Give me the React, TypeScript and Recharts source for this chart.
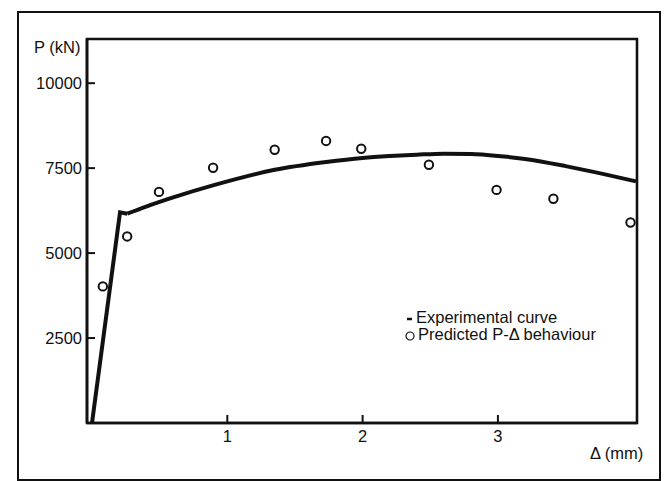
import React from 'react';
import {
  ComposedChart,
  Line,
  Scatter,
  XAxis,
  YAxis,
  Legend,
  ReferenceArea,
} from 'recharts';

// experimental curve: straight elastic branch, then the smooth part
const elasticDelta = [0, 0.207, 0.26];
const elasticLoad = [0, 6200, 6160];

const curveDelta = [0.26, 0.4, 0.6, 0.9, 1.35, 1.73, 2.0, 2.2, 2.4, 2.6, 2.8, 3.0, 3.2, 3.5, 3.8, 4.02];
const curveLoad = [6160, 6370, 6640, 7000, 7450, 7680, 7800, 7855, 7895, 7925, 7915, 7860, 7770, 7560, 7310, 7110];

// predicted P-Δ points
const predDelta = [0.08, 0.26, 0.495, 0.895, 1.35, 1.73, 1.99, 2.49, 2.99, 3.41, 3.98];
const predLoad = [4020, 5490, 6800, 7510, 8040, 8300, 8070, 7600, 6860, 6600, 5900];

const xTicks = [1, 2, 3];
const yTicks = [2500, 5000, 7500, 10000];
const xDomain: [number, number] = [-0.037, 4.028];
const yDomain: [number, number] = [0, 11300];

const INK = '#111';
const FONT = '"Liberation Sans", Arial, Helvetica, sans-serif';

const elasticData = elasticDelta.map((x, i) => ({ x, p: elasticLoad[i] }));
const curveData = curveDelta.map((x, i) => ({ x, p: curveLoad[i] }));
const predData = predDelta.map((x, i) => ({ x, p: predLoad[i] }));

const HollowDot = (props: any) => {
  const { cx, cy } = props;
  if (cx == null || cy == null) return null;
  return <circle cx={cx} cy={cy} r={4.2} fill="#fff" stroke={INK} strokeWidth={2} />;
};

const LegendBox = () => (
  <div style={{ fontFamily: FONT, fontSize: 16.5, lineHeight: '17px', color: INK, whiteSpace: 'nowrap' }}>
    <div style={{ display: 'flex', alignItems: 'center', height: 17 }}>
      <svg width={12} height={17}>
        <line x1={3} y1={10} x2={8} y2={10} stroke={INK} strokeWidth={2.5} />
      </svg>
      <span>Experimental curve</span>
    </div>
    <div style={{ display: 'flex', alignItems: 'center', height: 17 }}>
      <svg width={14} height={17}>
        <circle cx={6} cy={10} r={4} fill="none" stroke={INK} strokeWidth={1.2} />
      </svg>
      <span>Predicted P-Δ behaviour</span>
    </div>
  </div>
);

export default function App() {
  const tickStyle = { fill: INK, fontSize: 16.5, fontFamily: FONT };
  const axisLine = { stroke: INK, strokeWidth: 2.6 };
  const tickLine = { stroke: INK, strokeWidth: 2 };

  return (
    <div style={{ position: 'absolute', left: 0, top: 0, width: 665, height: 481, background: '#fff', overflow: 'hidden' }}>
      {/* outer frame */}
      <div
        style={{
          position: 'absolute',
          left: 16.75,
          top: 10.75,
          width: 640,
          height: 466,
          border: `2.5px solid ${INK}`,
        }}
      />
      <ComposedChart
        width={665}
        height={481}
        margin={{ top: 39, right: 28, bottom: 28, left: 17 }}
        style={{ position: 'absolute', left: 0, top: 0 }}
      >
        <XAxis
          type="number"
          dataKey="x"
          domain={xDomain}
          ticks={xTicks}
          allowDataOverflow
          height={30}
          tickSize={-8}
          tickMargin={15}
          tick={tickStyle}
          axisLine={axisLine}
          tickLine={tickLine}
        />
        <YAxis
          type="number"
          domain={yDomain}
          ticks={yTicks}
          allowDataOverflow
          width={70}
          tickSize={-8}
          tickMargin={13}
          tick={tickStyle}
          axisLine={axisLine}
          tickLine={tickLine}
        />
        {/* plot box */}
        <ReferenceArea
          x1={xDomain[0]}
          x2={xDomain[1]}
          y1={yDomain[0]}
          y2={yDomain[1]}
          fill="none"
          fillOpacity={0}
          stroke={INK}
          strokeWidth={2.6}
          ifOverflow="visible"
        />
        <Line
          data={elasticData}
          dataKey="p"
          type="linear"
          stroke={INK}
          strokeWidth={4}
          dot={false}
          activeDot={false}
          isAnimationActive={false}
        />
        <Line
          data={curveData}
          dataKey="p"
          type="monotone"
          stroke={INK}
          strokeWidth={4}
          dot={false}
          activeDot={false}
          isAnimationActive={false}
        />
        <Scatter data={predData} dataKey="p" shape={<HollowDot />} isAnimationActive={false} />
        <Legend
          layout="vertical"
          align="center"
          verticalAlign="middle"
          content={<LegendBox />}
          wrapperStyle={{ left: 404, top: 309, width: 220 }}
        />
      </ComposedChart>
      <div style={{ position: 'absolute', left: 34, top: 39, fontFamily: FONT, fontSize: 16.5, lineHeight: '16px', color: INK }}>
        P (kN)
      </div>
      <div style={{ position: 'absolute', left: 590, top: 445, fontFamily: FONT, fontSize: 16.5, lineHeight: '16px', color: INK }}>
        Δ (mm)
      </div>
    </div>
  );
}
